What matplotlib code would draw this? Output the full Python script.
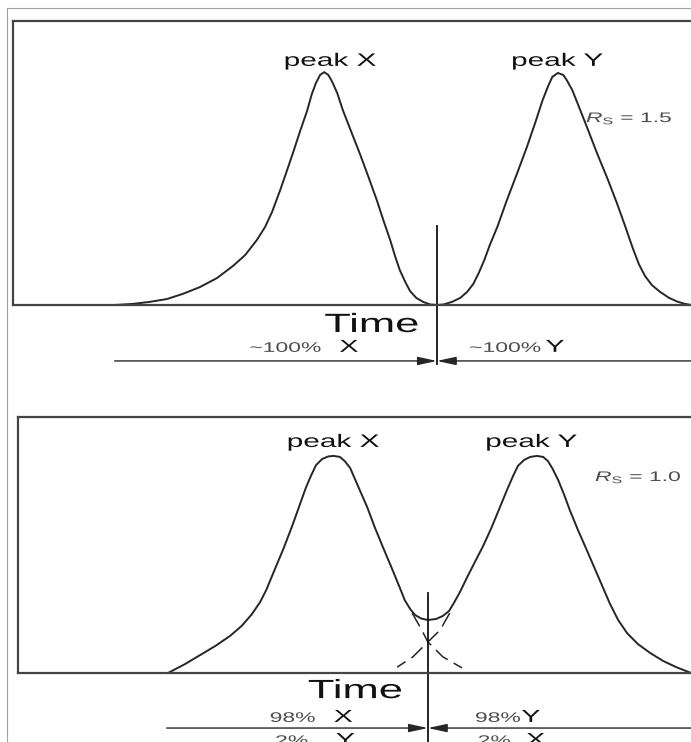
import matplotlib
matplotlib.use("Agg")
import matplotlib.pyplot as plt
from matplotlib.lines import Line2D
from matplotlib.patheffects import AbstractPathEffect
from matplotlib.transforms import Affine2D

plt.rcParams["font.family"] = ["Liberation Sans", "DejaVu Sans"]
plt.rcParams["mathtext.fontset"] = "custom"
plt.rcParams["mathtext.rm"] = "Liberation Sans"
plt.rcParams["mathtext.it"] = "Liberation Sans:italic"

# Rs = 1.5 : baseline-resolved pair, one trace
wide_time = [14.8, 17.5, 19.9, 22.4, 24.7, 27.2, 29.7, 32.0, 33.8, 35.5,
             36.7, 37.7, 38.9, 39.9, 40.8, 41.8, 42.8, 43.5, 44.1, 44.7,
             45.3, 45.9, 46.4, 47.2, 48.0, 49.3, 50.5, 51.8, 53.0, 54.0,
             54.9, 55.6, 56.3, 57.1, 57.8, 58.7, 59.7, 60.7, 61.7, 62.7,
             63.9, 65.1, 66.1, 67.0, 67.8, 68.6, 69.4, 70.5, 71.9, 73.4,
             74.8, 76.1, 77.1, 77.9, 78.5, 79.3, 80.1, 80.6, 81.4, 82.1,
             83.6, 85.0, 86.5, 87.9, 89.1, 90.2, 91.1, 92.0, 93.0, 94.2,
             95.5, 96.7, 97.8, 98.7]
wide_signal = [0.0, 0.4, 1.1, 2.1, 3.9, 6.3, 9.5, 13.7, 17.6, 22.9,
               27.5, 32.7, 40.5, 47.5, 53.9, 61.3, 68.3, 74.3, 78.2, 81.0,
               82.0, 81.0, 78.9, 74.6, 68.7, 60.6, 53.2, 44.7, 36.6, 29.2,
               22.9, 17.3, 12.3, 8.1, 4.9, 2.5, 1.1, 0.2, 0.0, 0.2,
               1.1, 2.5, 4.6, 7.4, 11.3, 15.8, 21.1, 27.5, 37.0, 46.5,
               55.6, 64.8, 72.2, 77.1, 80.3, 81.7, 81.0, 79.2, 75.7, 71.5,
               62.3, 53.5, 44.7, 35.9, 27.8, 20.1, 14.4, 10.2, 7.0, 4.6,
               2.5, 1.2, 0.4, 0.0]
wide_cut = 61.7

# Rs = 1.0 : overlapping pair, summed trace
close_time = [22.0, 24.5, 26.7, 28.9, 31.1, 32.8, 34.3, 35.5, 36.4, 37.5,
              38.9, 40.2, 41.3, 42.2, 43.0, 43.7, 44.6, 45.5, 46.3, 47.2,
              47.9, 48.7, 49.4, 50.3, 51.2, 52.3, 53.5, 54.8, 56.0, 56.7,
              57.5, 58.2, 59.1, 60.1, 61.3, 62.3, 63.2, 63.9, 64.8, 65.8,
              67.0, 68.2, 69.4, 70.5, 71.7, 72.6, 73.3, 74.2, 75.1, 76.1,
              77.0, 77.7, 78.4, 79.2, 80.1, 80.9, 82.1, 83.4, 84.6, 85.8,
              86.8, 88.0, 89.3, 90.9, 92.7, 94.6, 96.5, 98.7]
close_signal = [0.0, 3.5, 7.0, 10.5, 14.5, 18.4, 23.0, 27.7, 32.4, 39.5,
                48.4, 57.4, 65.6, 72.3, 77.3, 81.2, 83.6, 84.6, 84.8, 84.4,
                82.8, 80.1, 75.8, 70.3, 64.8, 57.0, 49.2, 41.0, 33.2, 28.5,
                25.0, 22.7, 21.3, 20.7, 21.1, 22.3, 24.2, 27.3, 31.6, 37.1,
                43.4, 49.6, 56.6, 63.7, 71.5, 77.0, 80.9, 83.2, 84.4, 84.8,
                84.4, 82.8, 79.7, 75.4, 69.5, 63.7, 55.9, 48.0, 40.6, 33.2,
                27.0, 20.7, 15.6, 11.3, 7.8, 4.7, 2.3, 0.0]
# single-peak tails running under the valley
tail_x_time = [57.8, 59.2, 60.1, 62.3, 65.1]
tail_x_signal = [23.4, 16.8, 12.1, 6.3, 2.0]
tail_y_time = [63.3, 61.9, 60.1, 57.9, 55.6]
tail_y_signal = [23.4, 16.8, 12.1, 6.3, 2.3]
close_cut = 60.1

rs_labels = [r"$R_{\rm S}$ = 1.5", r"$R_{\rm S}$ = 1.0"]

INK = "#262626"
GREY = "#4d4d4d"


class Widen(AbstractPathEffect):
    """Stretch glyphs sideways, starting from the text's left edge."""

    def __init__(self, factor):
        super().__init__()
        self.factor = factor

    def draw_path(self, renderer, gc, tpath, affine, rgbFace=None):
        renderer.draw_path(gc, tpath, Affine2D().scale(self.factor, 1) + affine, rgbFace)


def label(ax, t, s, text, size, color="#111111"):
    ax.text(t, s, text, fontsize=size, color=color, ha="left", va="baseline",
            clip_on=False, path_effects=[Widen(1.65)])


def arrows(ax, start, cut, y):
    style = dict(arrowstyle="-|>,head_length=1.15,head_width=0.25",
                 mutation_scale=10, lw=1.0, color=INK, shrinkA=0, shrinkB=0)
    ax.annotate("", xy=(cut, y), xytext=(start, y), arrowprops=style,
                annotation_clip=False)
    ax.annotate("", xy=(cut, y), xytext=(101, y), arrowprops=style,
                annotation_clip=False)


def frame(ax):
    ax.set_xlim(0, 100)
    ax.set_ylim(0, 100)
    ax.set_xticks([])
    ax.set_yticks([])
    for sp in ax.spines.values():
        sp.set_color("#444444")
        sp.set_linewidth(1.6)


W, H = 691, 742
fig = plt.figure(figsize=(W / 100, H / 100), dpi=100)

# light frame round the sheet
fig.add_artist(Line2D([7 / W, 7 / W], [0, 1 - 8 / H], color="#a0a0a0", lw=0.8))
fig.add_artist(Line2D([7 / W, 1], [1 - 8 / H, 1 - 8 / H], color="#a0a0a0", lw=0.8))

# upper panel
ax1 = fig.add_axes([13 / W, 1 - 305 / H, 687 / W, 284 / H])
frame(ax1)
ax1.plot(wide_time, wide_signal, color=INK, lw=1.4, clip_on=False,
         solid_joinstyle="round")
ax1.plot([wide_cut, wide_cut], [27.8, -20.8], color="#111111", lw=1.3, clip_on=False)
arrows(ax1, 14.8, wide_cut, -19.7)
label(ax1, 39.4, 84.2, "peak X", 13)
label(ax1, 72.5, 84.2, "peak Y", 13)
label(ax1, 83.4, 64.4, rs_labels[0], 10, GREY)
label(ax1, 45.3, -9.5, "Time", 19)
label(ax1, 34.4, -16.5, "~100%", 10, GREY)
label(ax1, 47.5, -16.5, "X", 12.5)
label(ax1, 66.4, -16.5, "~100%", 10, GREY)
label(ax1, 77.5, -16.5, "Y", 12.5)

# lower panel
ax2 = fig.add_axes([18 / W, 1 - 673 / H, 682 / W, 256 / H])
frame(ax2)
ax2.plot(close_time, close_signal, color=INK, lw=1.4, clip_on=False,
         solid_joinstyle="round")
ax2.plot(tail_x_time, tail_x_signal, color=INK, lw=1.1, ls=(0, (10, 4.5)))
ax2.plot(tail_y_time, tail_y_signal, color=INK, lw=1.1, ls=(0, (10, 4.5)))
ax2.plot([close_cut, close_cut], [31.3, -32], color="#111111", lw=1.3, clip_on=False)
arrows(ax2, 21.8, close_cut, -21.5)
label(ax2, 39.4, 88.3, "peak X", 13)
label(ax2, 68.5, 88.3, "peak Y", 13)
label(ax2, 84.6, 75.0, rs_labels[1], 10, GREY)
label(ax2, 42.5, -9.8, "Time", 19)
label(ax2, 36.9, -19.1, "98%", 10, GREY)
label(ax2, 46.3, -19.1, "X", 12.5)
label(ax2, 67.0, -19.1, "98%", 10, GREY)
label(ax2, 73.8, -19.1, "Y", 12.5)
label(ax2, 37.7, -28.1, "2%", 10, GREY)
label(ax2, 46.6, -28.1, "Y", 12.5)
label(ax2, 67.4, -28.1, "2%", 10, GREY)
label(ax2, 74.5, -28.1, "X", 12.5)

fig.savefig("out.png", dpi=100)
